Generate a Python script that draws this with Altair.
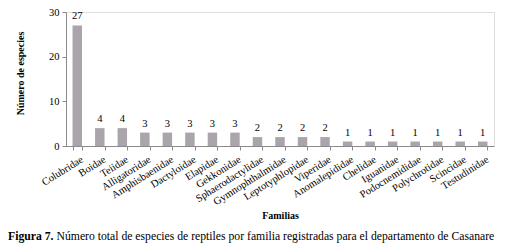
import altair as alt
import pandas as pd

familias = ["Colubridae", "Boidae", "Teiidae", "Alligatoridae", "Amphisbaenidae",
            "Dactyloidae", "Elapidae", "Gekkonidae", "Sphaerodactylidae",
            "Gymnophthalmidae", "Leptotyphlopidae", "Viperidae", "Anomalepididae",
            "Chelidae", "Iguanidae", "Podocnemididae", "Polychrotidae", "Scincidae",
            "Testudinidae"]
especies = [27, 4, 4, 3, 3, 3, 3, 3, 2, 2, 2, 2, 1, 1, 1, 1, 1, 1, 1]
y_ticks = [0, 5, 10, 15, 20, 25, 30]
x_title = "Familias"
y_title = "Número de especies"
caption_bold = "Figura 7."
caption_rest = "Número total de especies de reptiles por familia registradas para el departamento de Casanare"

df = pd.DataFrame({"Familia": familias, "Especies": especies})

W, H = 428, 134
FONT = "'Times New Roman', 'Liberation Serif', 'DejaVu Serif', serif"
AX = "#8a8a8a"

base = alt.Chart(df)

x_enc = alt.X(
    "Familia:N", sort=familias,
    scale=alt.Scale(paddingInner=0.58, paddingOuter=0.29),
    axis=alt.Axis(
        title=x_title, labelAngle=-32, labelFontSize=10.5, labelColor="black",
        labelFont=FONT, domainColor=AX, tickColor=AX, tickBand="extent",
        tickSize=4, labelPadding=4, titleFont=FONT, titleFontSize=10,
        titleFontWeight="bold", titleColor="black", titleX=W / 2, titleY=72,
        titleBaseline="alphabetic", titleAlign="center", labelOffset=2,
    ),
)
y_enc = alt.Y(
    "Especies:Q",
    scale=alt.Scale(domain=[0, 30], nice=False),
    axis=alt.Axis(
        title=y_title, values=y_ticks, grid=False, labelFontSize=10.5,
        labelFont=FONT, labelColor="black", domainColor=AX, tickColor=AX,
        tickSize=4, labelPadding=3, titleFont=FONT, titleFontSize=10,
        titleFontWeight="bold", titleColor="black", titleX=-46, titleY=61,
        titleAngle=270, titleAlign="center", titleBaseline="middle",
    ),
)

bars = base.mark_bar(color="#aaa4ab").encode(x=x_enc, y=y_enc)
labels = base.mark_text(baseline="bottom", dy=-4, fontSize=10.5, font=FONT, color="black").encode(
    x=alt.X("Familia:N", sort=familias),
    y="Especies:Q",
    text="Especies:Q",
)

cap_df = pd.DataFrame({"b": [caption_bold], "r": [caption_rest]})
cap_bold = alt.Chart(cap_df).mark_text(
    align="left", baseline="alphabetic", fontSize=11.7, font=FONT,
    fontWeight="bold", color="black",
).encode(x=alt.value(-58), y=alt.value(228), text="b:N")
cap_rest = alt.Chart(cap_df).mark_text(
    align="left", baseline="alphabetic", fontSize=11.7, font=FONT, color="black",
).encode(x=alt.value(-58 + 48.5), y=alt.value(228), text="r:N")

chart = alt.layer(bars, labels, cap_bold, cap_rest).properties(
    width=W, height=H,
    autosize=alt.AutoSizeParams(type="none"),
    padding={"left": 58, "top": 4, "right": 6, "bottom": 101},
).configure_view(stroke=None).configure(background="white", font=FONT)

chart.save("out.html", embed_options={"renderer": "svg", "actions": False})
